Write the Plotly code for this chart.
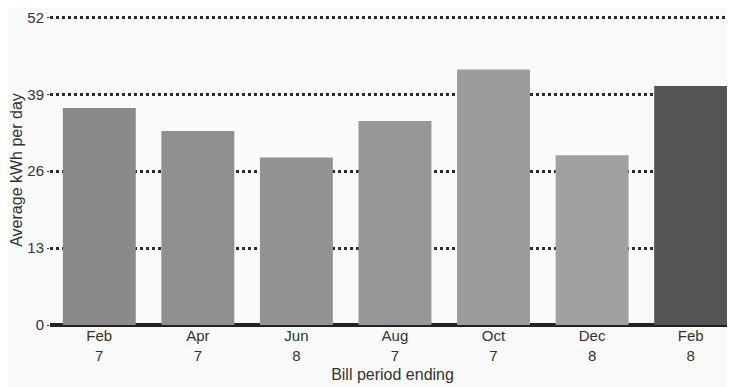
import plotly.graph_objects as go

categories = ["Feb<br>7", "Apr<br>7", "Jun<br>8", "Aug<br>7", "Oct<br>7", "Dec<br>8", "Feb<br>8"]
values = [36.7, 32.8, 28.3, 34.5, 43.2, 28.7, 40.4]
bar_colors = ["#8a8a8a", "#8f8f8f", "#939393", "#969696", "#9c9c9c", "#a0a0a0", "#555555"]
y_ticks = [0, 13, 26, 39, 52]

fig = go.Figure(go.Bar(
    x=list(range(len(categories))), y=values,
    marker=dict(color=bar_colors, line=dict(width=0)),
    width=0.74,
))

fig.update_layout(
    width=727, height=379,
    margin=dict(l=42, r=0, t=7, b=62),
    paper_bgcolor="#fafafa", plot_bgcolor="#fafafa",
    font=dict(family="Liberation Sans, Arial, sans-serif", size=15, color="#333333"),
    showlegend=False,
    xaxis=dict(
        tickmode="array", tickvals=list(range(len(categories))), ticktext=categories,
        range=[-0.5, 6.45], showgrid=False, zeroline=False,
        showline=False, ticks="", automargin=False,
        title=dict(text="Bill period ending", standoff=6, font=dict(size=16)),
        tickfont=dict(size=15),
    ),
    yaxis=dict(
        range=[0, 52.4], tickvals=y_ticks, showgrid=True,
        gridcolor="#2a2a2a", griddash="dot", gridwidth=2.5,
        zeroline=True, zerolinecolor="#222222", zerolinewidth=4,
        ticks="outside", ticklen=2, tickcolor="#333333", automargin=False,
        title=dict(text="Average kWh per day", standoff=10, font=dict(size=16)),
        tickfont=dict(size=15),
    ),
)

fig.write_html("out.html")
